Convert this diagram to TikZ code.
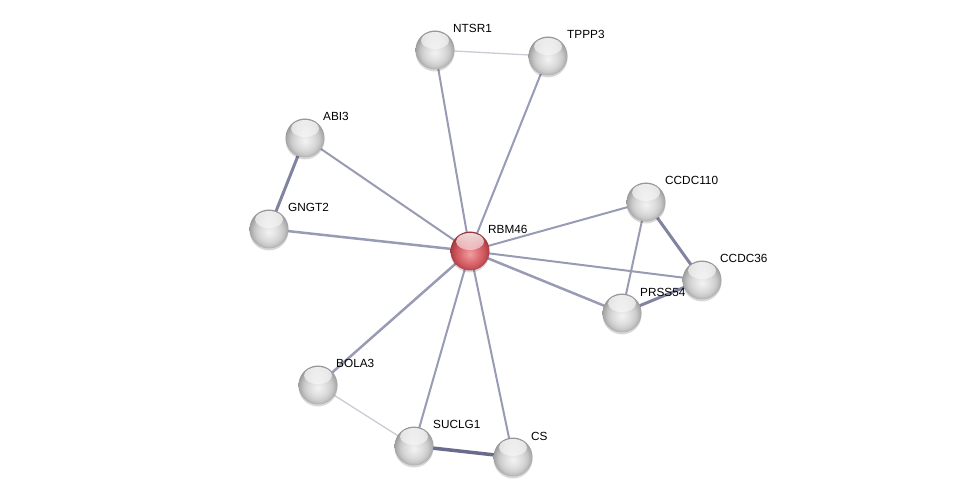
\documentclass[tikz,border=0pt]{standalone}
\usepackage{fontspec}
\setmainfont{Liberation Sans}
\usetikzlibrary{shadows,fadings}
\definecolor{edgec}{RGB}{152,155,180}
\definecolor{thickc}{RGB}{128,132,160}
\definecolor{darkc}{RGB}{104,108,140}
\definecolor{lightc}{RGB}{202,203,214}
\pgfdeclareradialshading{graysphere}{\pgfpoint{0bp}{-4bp}}{%
  color(0bp)=(black!5); color(7bp)=(black!10); color(13bp)=(black!15);
  color(18bp)=(black!21); color(23bp)=(black!32); color(27bp)=(black!42); color(50bp)=(black!42)}
\pgfdeclareradialshading{redsphere}{\pgfpoint{0bp}{-4bp}}{%
  color(0bp)=(rgb,255:red,238;green,160;blue,162); color(7bp)=(rgb,255:red,230;green,128;blue,132);
  color(13bp)=(rgb,255:red,218;green,104;blue,110); color(18bp)=(rgb,255:red,204;green,88;blue,94);
  color(23bp)=(rgb,255:red,180;green,66;blue,72); color(27bp)=(rgb,255:red,152;green,52;blue,57); color(50bp)=(rgb,255:red,152;green,52;blue,57)}
\tikzfading[name=hl, top color=transparent!15, bottom color=transparent!100]
\begin{document}
\begin{tikzpicture}[x=1pt,y=-1pt,
  ball/.style={circle,minimum size=39pt,inner sep=0pt,shading=graysphere,
    drop shadow={shadow xshift=0pt,shadow yshift=-2pt,opacity=0.15,fill=black},
    path picture={\fill[white,path fading=hl] ([yshift=-10pt]path picture bounding box.north) ellipse (14pt and 8.5pt);}},
  redball/.style={ball,shading=redsphere},
  lab/.style={anchor=west,font=\fontsize{11.8}{13}\selectfont,inner sep=0pt},
  edge/.style={draw=edgec,line width=2pt},
  thick edge/.style={draw=thickc,line width=3pt},
  light edge/.style={draw=lightc,line width=1.3pt}]
\useasboundingbox (0,0) rectangle (976,502);
\coordinate (pNTSR1) at (435,50);
\coordinate (pTPPP3) at (548,56);
\coordinate (pABI3) at (305,138);
\coordinate (pGNGT2) at (269,229);
\coordinate (pRBM46) at (470,251);
\coordinate (pCCDC110) at (646,202);
\coordinate (pCCDC36) at (702,280);
\coordinate (pPRSS54) at (622,313);
\coordinate (pBOLA3) at (318,385);
\coordinate (pSUCLG1) at (414,446);
\coordinate (pCS) at (513,457);
% edges
\draw[light edge] (pNTSR1) -- (pTPPP3);
\draw[light edge] (pBOLA3) -- (pSUCLG1);
\draw[edge] (pRBM46) -- (pNTSR1);
\draw[edge] (pRBM46) -- (pTPPP3);
\draw[edge] (pRBM46) -- (pABI3);
\draw[edge,line width=2.5pt] (pRBM46) -- (pGNGT2);
\draw[thick edge] (pABI3) -- (pGNGT2);
\draw[edge] (pRBM46) -- (pCCDC110);
\draw[edge] (pRBM46) -- (pCCDC36);
\draw[edge,line width=2.5pt] (pRBM46) -- (pPRSS54);
\draw[thick edge] (pCCDC110) -- (pCCDC36);
\draw[edge] (pCCDC110) -- (pPRSS54);
\draw[thick edge] (pPRSS54) -- (pCCDC36);
\draw[edge,line width=2.5pt] (pRBM46) -- (pBOLA3);
\draw[edge] (pRBM46) -- (pSUCLG1);
\draw[edge] (pRBM46) -- (pCS);
\draw[draw=darkc,line width=3.5pt] (pSUCLG1) -- (pCS);
% nodes
\node[ball] (NTSR1) at (pNTSR1) {};
\node[ball] (TPPP3) at (pTPPP3) {};
\node[ball] (ABI3) at (pABI3) {};
\node[ball] (GNGT2) at (pGNGT2) {};
\node[redball] (RBM46) at (pRBM46) {};
\node[ball] (CCDC110) at (pCCDC110) {};
\node[ball] (CCDC36) at (pCCDC36) {};
\node[ball] (PRSS54) at (pPRSS54) {};
\node[ball] (BOLA3) at (pBOLA3) {};
\node[ball] (SUCLG1) at (pSUCLG1) {};
\node[ball] (CS) at (pCS) {};
% labels
\node[lab] (lNTSR1) at (453,28) {NTSR1};
\node[lab] (lTPPP3) at (567,34) {TPPP3};
\node[lab] (lABI3) at (323,116) {ABI3};
\node[lab] (lGNGT2) at (288,207) {GNGT2};
\node[lab] (lRBM46) at (488,229) {RBM46};
\node[lab] (lCCDC110) at (665,180) {CCDC110};
\node[lab] (lCCDC36) at (720,258) {CCDC36};
\node[lab] (lPRSS54) at (640,292) {PRSS54};
\node[lab] (lBOLA3) at (336,363) {BOLA3};
\node[lab] (lSUCLG1) at (433,424) {SUCLG1};
\node[lab] (lCS) at (531,436) {CS};
\end{tikzpicture}
\end{document}
